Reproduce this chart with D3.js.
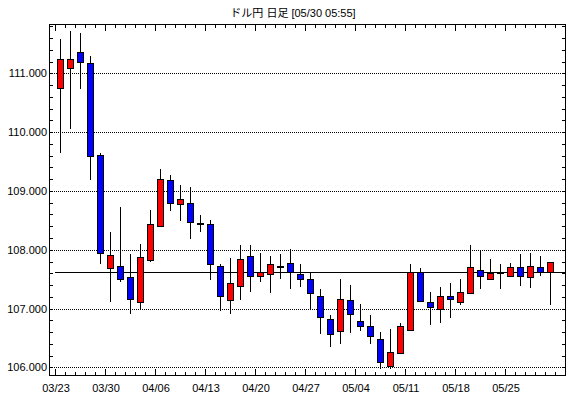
<!DOCTYPE html>
<html><head><meta charset="utf-8">
<script src="https://cdn.jsdelivr.net/npm/d3@7"></script>
<style>
html,body{margin:0;padding:0;background:#fff;}
svg{display:block;}
</style></head>
<body>
<script>
const title = "ドル円 日足 [05/30 05:55]";
const dates = ["03/23","03/24","03/25","03/26","03/27","03/30","03/31","04/01","04/02","04/03",
"04/06","04/07","04/08","04/09","04/10","04/13","04/14","04/15","04/16","04/17",
"04/20","04/21","04/22","04/23","04/24","04/27","04/28","04/29","04/30","05/01",
"05/04","05/05","05/06","05/07","05/08","05/11","05/12","05/13","05/14","05/15",
"05/18","05/19","05/20","05/21","05/22","05/25","05/26","05/27","05/28","05/29"];
const open  = [110.75,111.10,111.36,111.17,109.62,107.69,107.73,107.53,107.12,107.83,
108.41,109.18,108.77,108.79,108.45,108.43,107.72,107.14,107.38,107.89,
107.55,107.58,107.72,107.77,107.58,107.51,107.22,106.82,106.61,107.14,
106.78,106.71,106.49,106.03,106.25,106.64,107.62,107.12,107.00,107.21,
107.12,107.27,107.65,107.51,107.62,107.56,107.70,107.53,107.70,107.62];
const high  = [111.58,111.72,111.69,111.29,109.64,108.31,108.73,107.93,108.10,108.67,
109.37,109.27,109.10,109.07,108.59,108.50,107.75,107.86,108.08,108.08,
107.94,107.89,107.93,108.02,107.75,107.62,107.33,106.89,107.50,107.40,
107.07,106.89,106.60,106.65,106.75,107.76,107.69,107.28,107.37,107.43,
107.50,108.08,107.99,107.84,107.76,107.77,107.93,107.94,107.89,107.79];
const low   = [109.65,110.06,110.74,109.19,107.75,107.12,107.46,106.91,107.00,107.80,
108.40,108.66,108.49,108.19,108.31,107.48,106.96,106.91,107.15,107.29,
107.46,107.27,107.51,107.34,107.36,106.99,106.56,106.35,106.40,106.59,
106.62,106.40,105.98,105.98,106.22,106.61,107.12,106.72,106.75,106.84,
107.06,107.25,107.33,107.49,107.33,107.55,107.39,107.35,107.56,107.06];
const close = [111.25,111.24,111.19,109.59,107.94,107.91,107.51,107.16,107.87,108.43,
109.20,108.79,108.86,108.48,108.43,107.75,107.21,107.43,107.85,107.55,
107.63,107.75,107.70,107.63,107.50,107.26,106.85,106.57,107.16,106.90,
106.71,106.53,106.09,106.26,106.70,107.62,107.13,107.02,107.22,107.16,
107.29,107.70,107.55,107.60,107.63,107.70,107.55,107.72,107.62,107.79];
const currentLine = 107.62;
const yLabels = [106,107,108,109,110,111];
const weekLabels = ["03/23","03/30","04/06","04/13","04/20","04/27","05/04","05/11","05/18","05/25"];

const W = 570, H = 398;
const L = 50, R = 565, T = 24, B = 375;
const svg = d3.select("body").append("svg").attr("width", W).attr("height", H);

// x: one slot per trading day plus one empty slot at the right
const x = d3.scaleBand().domain(d3.range(dates.length + 1)).range([55, R]).padding(0);
const y = d3.scaleLinear().domain([105.87, 111.84]).range([B, T]);
const px = v => Math.round(v) + 0.5;

// grid (dotted)
svg.append("g").selectAll("line").data(yLabels).join("line")
  .attr("x1", L).attr("x2", R)
  .attr("y1", d => px(y(d))).attr("y2", d => px(y(d)))
  .attr("stroke", "#000").attr("stroke-width", 1).attr("stroke-dasharray", "1,1")
  .attr("shape-rendering", "crispEdges");

// current price line
svg.append("line").attr("x1", 55).attr("x2", R)
  .attr("y1", px(y(currentLine))).attr("y2", px(y(currentLine)))
  .attr("stroke", "#000").attr("stroke-width", 1).attr("shape-rendering", "crispEdges");

// candles
const data = dates.map((d, i) => ({i, d, o: open[i], h: high[i], l: low[i], c: close[i]}));
const g = svg.append("g");
const cx = d => Math.floor(x(d.i) + x.bandwidth() / 2) + 0.5;
g.selectAll("line.wick").data(data).join("line").attr("class", "wick")
  .attr("x1", cx).attr("x2", cx)
  .attr("y1", d => Math.round(y(d.h))).attr("y2", d => Math.round(y(d.l)))
  .attr("stroke", "#000").attr("stroke-width", 1).attr("shape-rendering", "crispEdges");
g.selectAll("rect.body").data(data).join("rect").attr("class", "body")
  .attr("x", d => cx(d) - 3)
  .attr("width", 6)
  .attr("y", d => Math.round(y(Math.max(d.o, d.c))) + 0.5)
  .attr("height", d => Math.max(1, Math.round(y(Math.min(d.o, d.c))) - Math.round(y(Math.max(d.o, d.c)))))
  .attr("fill", d => d.c >= d.o ? "#ff0000" : "#0000ff")
  .attr("stroke", "#000").attr("stroke-width", 1).attr("shape-rendering", "crispEdges");

// frame
svg.append("rect").attr("x", L - 0.5).attr("y", T + 0.5).attr("width", R - L + 1).attr("height", B - T)
  .attr("fill", "none").attr("stroke", "#000").attr("stroke-width", 1).attr("shape-rendering", "crispEdges");

// y ticks (every 0.2) on left and right
const yt = y.ticks(30);
const ax = svg.append("g").attr("stroke", "#000").attr("stroke-width", 1).attr("shape-rendering", "crispEdges");
yt.forEach(v => {
  const yy = px(y(v));
  ax.append("line").attr("x1", L).attr("x2", L + 3).attr("y1", yy).attr("y2", yy);
  ax.append("line").attr("x1", R - 3).attr("x2", R).attr("y1", yy).attr("y2", yy);
});
// x ticks at each slot start, longer at week starts
const slotStarts = d3.range(dates.length + 1);
slotStarts.forEach(i => {
  const xx = Math.round(x(i)) + 0.5;
  const major = i < dates.length && weekLabels.includes(dates[i]);
  const len = major ? 6 : 3;
  ax.append("line").attr("x1", xx).attr("x2", xx).attr("y1", T + 1).attr("y2", T + 1 + len);
  ax.append("line").attr("x1", xx).attr("x2", xx).attr("y1", B).attr("y2", B - len);
});

// y labels
svg.append("g").selectAll("text").data(yLabels).join("text")
  .attr("x", 47).attr("y", d => Math.round(y(d)) + 4)
  .attr("text-anchor", "end")
  .attr("font-family", "Liberation Sans, Arial, sans-serif").attr("font-size", 11)
  .attr("fill", "#000")
  .text(d => d.toFixed(3));

// x labels
svg.append("g").selectAll("text").data(weekLabels).join("text")
  .attr("x", d => x(dates.indexOf(d)) + 1).attr("y", 392)
  .attr("text-anchor", "middle")
  .attr("font-family", "Liberation Sans, Arial, sans-serif").attr("font-size", 11)
  .attr("fill", "#000")
  .text(d => d);

// title
svg.append("text").attr("x", 293).attr("y", 17).attr("text-anchor", "middle")
  .attr("font-family", "Liberation Sans, Noto Sans CJK JP, sans-serif").attr("font-size", 11)
  .attr("fill", "#000").text(title);
</script>
</body></html>
